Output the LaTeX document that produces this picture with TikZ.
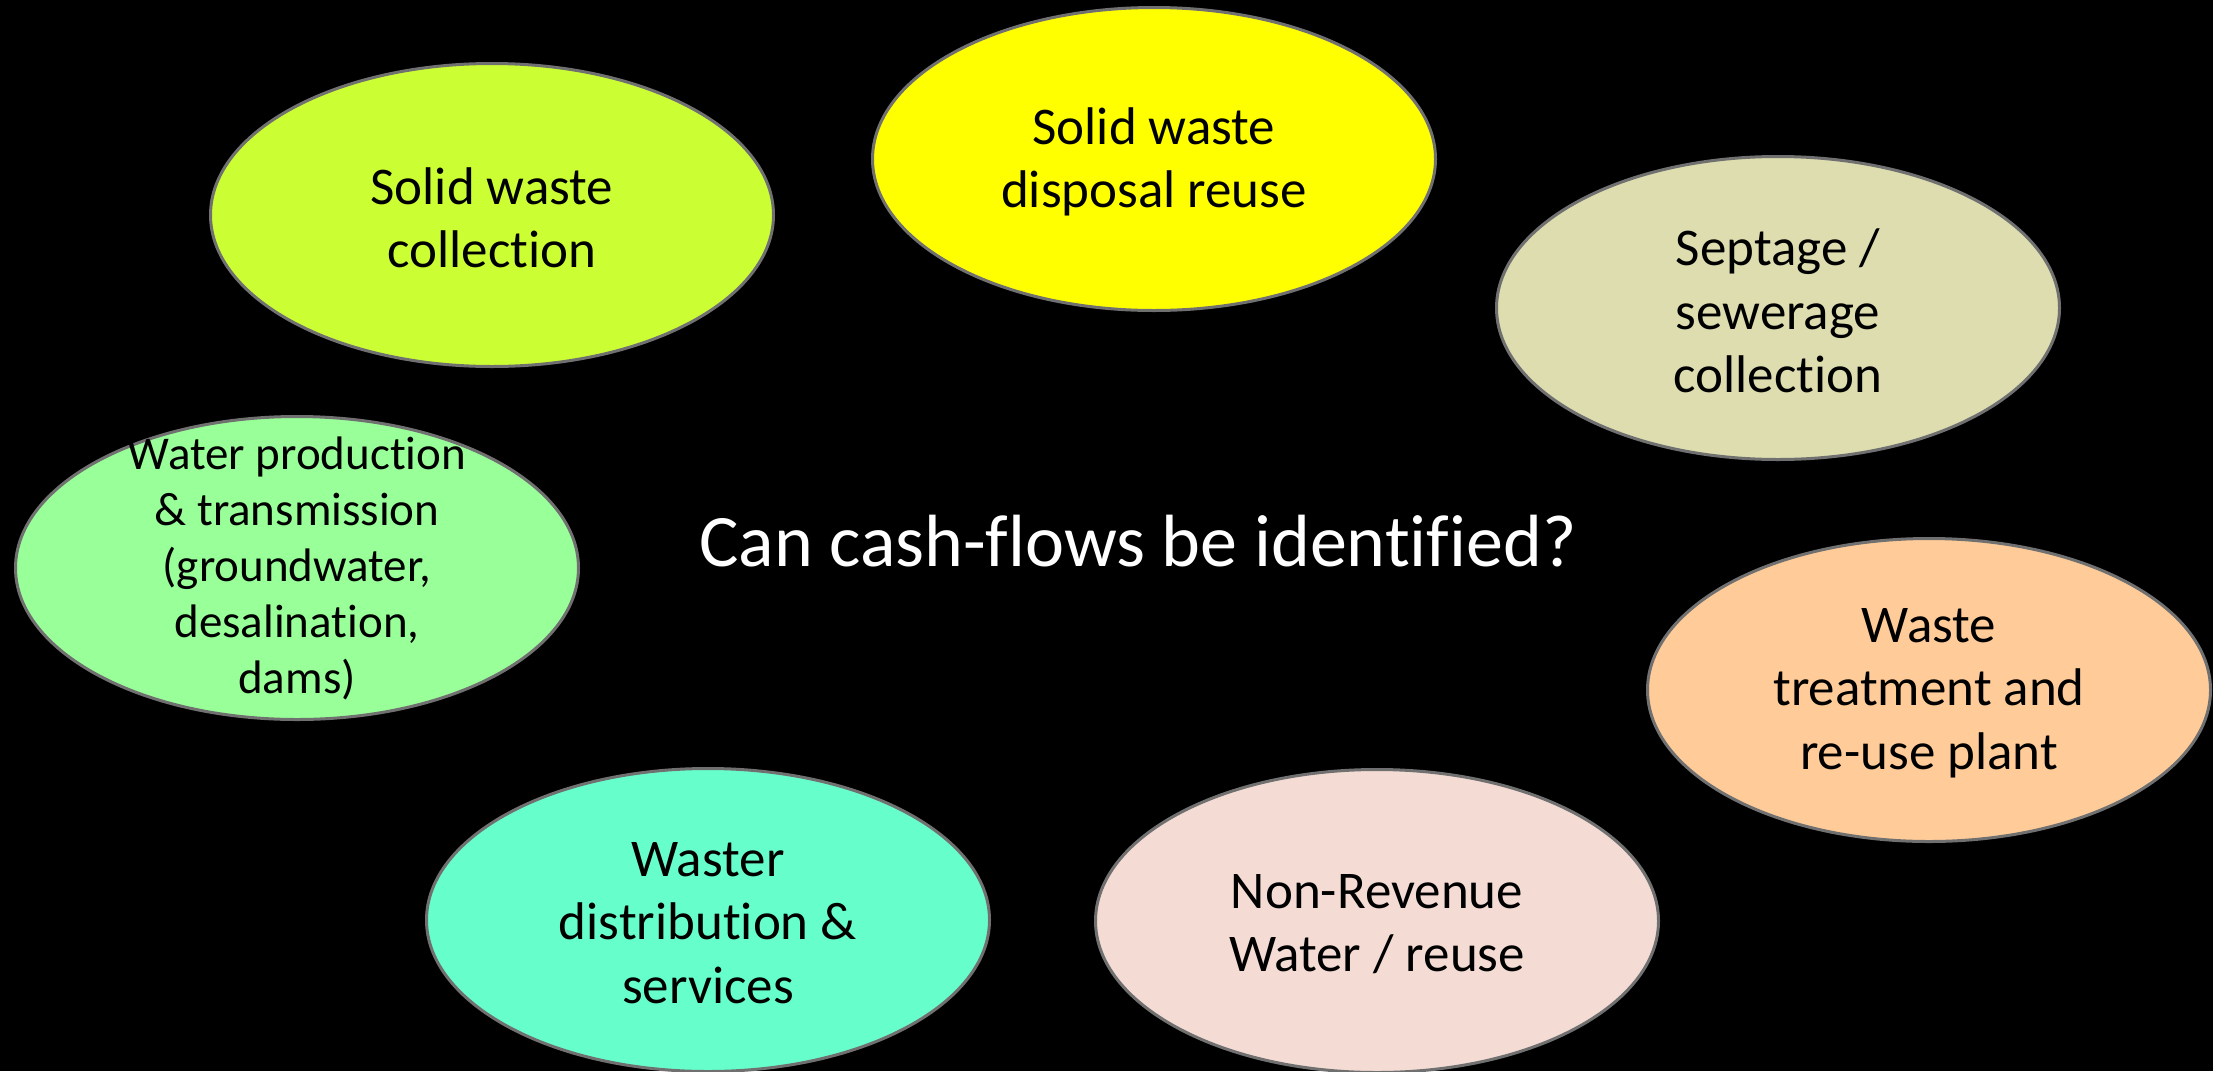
\documentclass[tikz,border=0pt]{standalone}
\usepackage{fontspec}
\setmainfont[Ligatures=NoCommon]{Carlito}
\usetikzlibrary{shapes.geometric}

\definecolor{limegreen}{HTML}{CCFF33}
\definecolor{plainyellow}{HTML}{FFFF00}
\definecolor{khaki}{HTML}{DDDDB0}
\definecolor{palegreen}{HTML}{99FF99}
\definecolor{peach}{HTML}{FFCC99}
\definecolor{aqua}{HTML}{66FFCC}
\definecolor{rosewhite}{HTML}{F4DCD4}
\definecolor{rimgray}{HTML}{707070}

\begin{document}
\begin{tikzpicture}[x=1pt,y=-1pt,
        blob/.style={ellipse, draw=rimgray, line width=3pt, minimum width=563pt, minimum height=303pt, inner sep=0pt},
        blobtext/.style={align=center, text=black, yshift=-3pt, font=\fontsize{53}{63.5}\selectfont},
        smalltext/.style={align=center, text=black, font=\fontsize{47}{56}\selectfont}]
        % background
        \useasboundingbox (0,0) rectangle (2213,1071);
        \fill[black] (0,0) rectangle (2213,1071);

        % solid waste
        \node[blob, fill=limegreen] (swcoll) at (492,215) {};
        \node[blobtext] at (swcoll) {Solid waste\\collection};
        \node[blob, fill=plainyellow] (swdisp) at (1154,159) {};
        \node[blobtext] at (swdisp) {Solid waste\\disposal reuse};

        % sewerage
        \node[blob, fill=khaki] (septage) at (1778,308) {};
        \node[blobtext] at (septage) {Septage /\\sewerage\\collection};

        % water production
        \node[blob, fill=palegreen] (prod) at (297,568) {};
        \node[smalltext] at (prod) {Water production\\\& transmission\\(groundwater,\\desalination,\\dams)};

        % treatment
        \node[blob, fill=peach] (treat) at (1929,690) {};
        \node[blobtext] at (treat) {Waste\\treatment and\\re-use plant};

        % distribution and NRW
        \node[blob, fill=aqua] (distr) at (708,920) {};
        \node[blobtext] at (distr) {Waster\\distribution \&\\services};
        \node[blob, fill=rosewhite] (nrw) at (1377,921) {};
        \node[blobtext] at (nrw) {Non-Revenue\\Water / reuse};

        % question
        \node[text=white, font=\fontsize{74}{88}\selectfont] (question) at (1138,541) {Can cash-flows be identified?};
\end{tikzpicture}
\end{document}
